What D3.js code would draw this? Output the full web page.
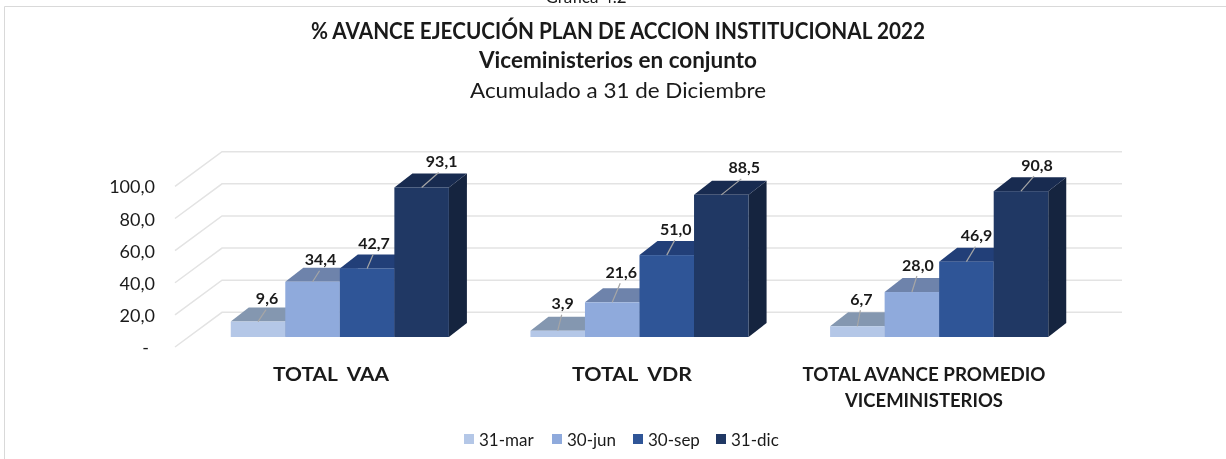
<!DOCTYPE html>
<html><head><meta charset="utf-8">
<script src="https://cdn.jsdelivr.net/npm/d3@7"></script>
<style>
html,body{margin:0;padding:0;background:#fff;overflow:hidden}
svg{display:block;filter:blur(0.35px)}
text{font-family:Lato,"Open Sans",sans-serif;fill:#1a1a1a}
</style></head><body>
<svg id="c" width="1226" height="459"></svg>
<script>
const categories = ["TOTAL  VAA", "TOTAL  VDR", "TOTAL AVANCE PROMEDIO|VICEMINISTERIOS"];
const seriesNames = ["31-mar", "30-jun", "30-sep", "31-dic"];
const mar31 = [9.6, 3.9, 6.7];
const jun30 = [34.4, 21.6, 28.0];
const sep30 = [42.7, 51.0, 46.9];
const dic31 = [93.1, 88.5, 90.8];
const seriesValues = [mar31, jun30, sep30, dic31];
const tickValues = [0, 20, 40, 60, 80, 100];
const frontColors = ["#B4C7E7", "#8FAADC", "#2F5597", "#203864"];
const topColors = ["#8497B0", "#6E83AB", "#223F78", "#182B50"];
const sideColors = ["#8497B0", "#6E83AB", "#223F78", "#15243F"];
const labelShiftX = [[9, 5, 4], [8, 9, 6], [7, 9, 10], [20, 23, 16]];
const labelRaise = [[23, 27, 27], [22, 30, 27], [25, 26, 26], [26, 27, 26]];
const categoryWidths = [[116], [120], [243, 158]];
const categoryCentres = [331, 632, 924];

const svg = d3.select("#c");
const fmt = v => v.toFixed(1).replace(".", ",");

// frame and clipped caption
svg.append("text").attr("x", 586).attr("y", 3).attr("text-anchor", "middle").attr("font-size", 17).text("Gráfica 4.2");
svg.append("path").attr("d", "M4.5,459V6.5H1226").attr("fill", "none").attr("stroke", "#d9d9d9");

// titles
const title = svg.append("g").attr("text-anchor", "middle");
title.append("text").attr("x", 618).attr("y", 39).attr("font-size", 22).attr("font-weight", 700).attr("textLength", 614).attr("lengthAdjust", "spacingAndGlyphs").text("% AVANCE EJECUCIÓN PLAN DE ACCION INSTITUCIONAL 2022");
title.append("text").attr("x", 618).attr("y", 68).attr("font-size", 22).attr("font-weight", 700).attr("textLength", 278).attr("lengthAdjust", "spacingAndGlyphs").text("Viceministerios en conjunto");
title.append("text").attr("x", 618).attr("y", 98).attr("font-size", 22).attr("textLength", 296).attr("lengthAdjust", "spacingAndGlyphs").text("Acumulado a 31 de Diciembre");

// scales
const depthX = 18, depthY = 14;
const y = d3.scaleLinear().domain([0, 100]).range([337, 176.4]);
const yBack = d3.scaleLinear().domain([0, 100]).range([312.3, 151.7]);
const yAxisScale = d3.scaleLinear().domain([0, 100]).range([347, 186.4]);
const x0 = d3.scaleBand().domain(categories).range([190, 1089]).paddingInner(0.272).paddingOuter(0.136);
const x1 = d3.scaleBand().domain(seriesNames).range([0, x0.bandwidth()]);

// walls and gridlines
const grid = svg.append("g").attr("stroke", "#e3e3e3").attr("stroke-width", 1.5).attr("fill", "none");
tickValues.forEach(t => {
  grid.append("path").attr("d", `M175,${yAxisScale(t)}L222,${yBack(t)}H1122`);
});

// y axis labels
const axis = d3.axisLeft(yAxisScale).tickValues(tickValues).tickSize(0).tickPadding(0)
  .tickFormat(v => v === 0 ? "-" : fmt(v));
const ag = svg.append("g").attr("transform", "translate(155,0)").call(axis);
ag.select(".domain").remove();
ag.selectAll("text").attr("font-size", 18).attr("font-family", "Lato,sans-serif").attr("fill", "#1a1a1a").attr("dy", "0.36em");
ag.selectAll(".tick").filter(d => d === 0).select("text").attr("dx", -6);

// bars
categories.forEach((c, ci) => {
  const g = svg.append("g");
  seriesNames.forEach((s, si) => {
    const v = seriesValues[si][ci];
    const xl = x0(c) + x1(s), w = x1.bandwidth(), yt = y(v), yb = y(0);
    g.append("path").attr("fill", sideColors[si])
      .attr("d", `M${xl + w},${yt}l${depthX},${-depthY}V${yb - depthY}L${xl + w},${yb}Z`);
    g.append("path").attr("fill", topColors[si])
      .attr("d", `M${xl},${yt}l${depthX},${-depthY}h${w}l${-depthX},${depthY}Z`);
    g.append("rect").attr("x", xl).attr("y", yt).attr("width", w).attr("height", yb - yt).attr("fill", frontColors[si]);
  });
});
// labels and leaders on top of all bars
categories.forEach((c, ci) => {
  seriesNames.forEach((s, si) => {
    const v = seriesValues[si][ci];
    const cx = x0(c) + x1(s) + x1.bandwidth() / 2, yt = y(v);
    const tx = cx + labelShiftX[si][ci], ty = yt - labelRaise[si][ci];
    svg.append("line").attr("x1", cx).attr("y1", yt).attr("x2", tx - (si === 3 ? 3 : 1)).attr("y2", ty + 11)
      .attr("stroke", "#a6a6a6").attr("stroke-width", 1.2);
    svg.append("text").attr("x", tx).attr("y", ty + 5.5).attr("text-anchor", "middle")
      .attr("font-size", 16).attr("font-weight", 700).text(fmt(v));
  });
});

// category labels
categories.forEach((c, ci) => {
  c.split("|").forEach((l, i) => {
    svg.append("text").attr("x", categoryCentres[ci]).attr("y", 381 + i * 26)
      .attr("text-anchor", "middle").attr("font-size", 19).attr("font-weight", 700)
      .attr("textLength", categoryWidths[ci][i]).attr("lengthAdjust", "spacingAndGlyphs")
      .style("white-space", "pre").text(l);
  });
});

// legend
const legendX = [464, 552, 633, 716];
seriesNames.forEach((s, i) => {
  svg.append("rect").attr("x", legendX[i]).attr("y", 434).attr("width", 10).attr("height", 10).attr("fill", frontColors[i]);
  svg.append("text").attr("x", legendX[i] + 15).attr("y", 445.5).attr("font-size", 17).attr("fill", "#333").text(s);
});
</script>
</body></html>
